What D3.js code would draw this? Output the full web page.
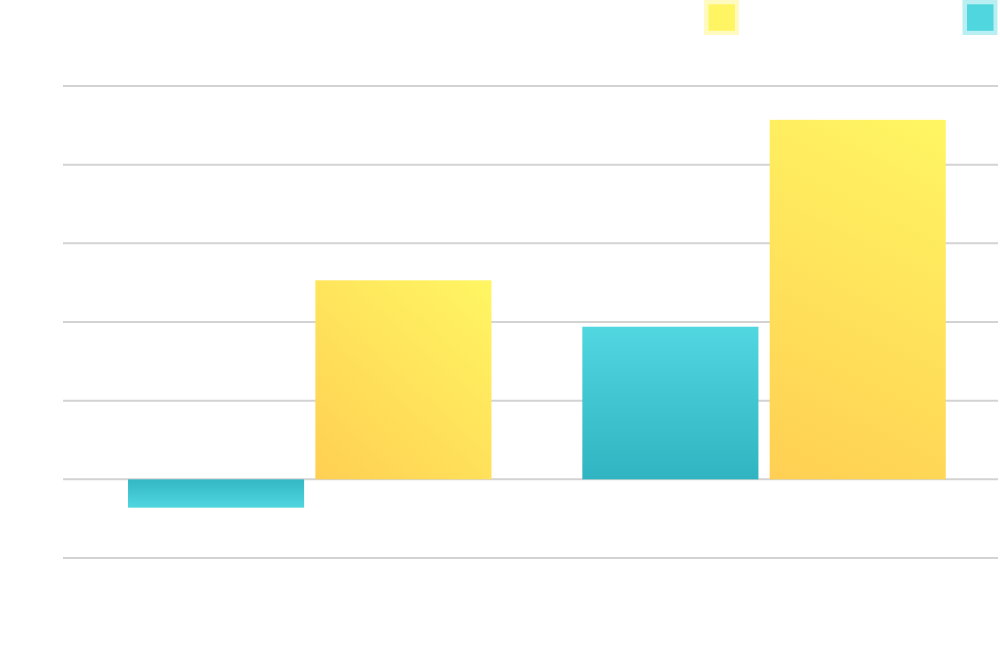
<!DOCTYPE html>
<html>
<head>
<meta charset="utf-8">
<script src="https://cdn.jsdelivr.net/npm/d3@7"></script>
<style>
  html, body { margin: 0; padding: 0; background: #fff; }
</style>
</head>
<body>
<div id="chart"></div>
<script>
var categories = ["A", "B"],
    series = ["teal", "yellow"],
    tealValues = [-3.6, 19.4],
    yellowValues = [25.3, 45.7],
    yTicks = [-10, 0, 10, 20, 30, 40, 50],
    legendItems = ["yellow", "teal"];

var width = 1000,
    height = 649,
    gridLeft = 63,
    gridRight = 998;

var svg = d3.select("#chart").append("svg")
  .attr("width", width)
  .attr("height", height);

var defs = svg.append("defs");

var grad = function (id, x1, y1, x2, y2, c1, c2, units) {
  var g = defs.append("linearGradient").attr("id", id)
    .attr("x1", x1).attr("y1", y1).attr("x2", x2).attr("y2", y2);
  if (units) g.attr("gradientUnits", units);
  g.append("stop").attr("offset", "0%").attr("stop-color", c1);
  g.append("stop").attr("offset", "100%").attr("stop-color", c2);
};
// teal: base dark, tip light
grad("tealUp", 0, 0, 0, 1, "#51d7e0", "#30b4c1");
grad("tealDown", 0, 0, 0, 1, "#33b8c4", "#4fd6df");

var y = d3.scaleLinear()
  .domain([-10, 50])
  .range([558, 86]);

var x0 = d3.scaleBand()
  .domain(categories)
  .range([82.6, 991.2])
  .paddingInner(0.2)
  .paddingOuter(0.1);

var x1 = d3.scaleBand()
  .domain(series)
  .range([0, x0.bandwidth()])
  .paddingInner(0.06);

// gridlines
svg.append("g")
  .selectAll("line")
  .data(yTicks)
  .enter()
  .append("line")
  .attr("x1", gridLeft)
  .attr("x2", gridRight)
  .attr("y1", function (d) { return y(d); })
  .attr("y2", function (d) { return y(d); })
  .attr("stroke", "#d3d3d3")
  .attr("stroke-width", 2);

var data = categories.map(function (c, i) {
  return { cat: c, values: [
    { key: "teal", value: tealValues[i], idx: i },
    { key: "yellow", value: yellowValues[i], idx: i }
  ] };
});

// yellow: gradient from bottom-left corner to top-right corner, in pixel space
data.forEach(function (d) {
  var v = d.values[1],
      bx = x1("yellow"),
      top = y(Math.max(0, v.value)),
      bottom = y(Math.min(0, v.value));
  grad("yellow" + v.idx, bx, bottom, bx + x1.bandwidth(), top,
       "#ffcf53", "#fff663", "userSpaceOnUse");
});

var groups = svg.append("g")
  .selectAll("g")
  .data(data)
  .enter()
  .append("g")
  .attr("transform", function (d) { return "translate(" + x0(d.cat) + ",0)"; });

groups.selectAll("rect")
  .data(function (d) { return d.values; })
  .enter()
  .append("rect")
  .attr("x", function (d) { return x1(d.key); })
  .attr("width", x1.bandwidth())
  .attr("y", function (d) { return y(Math.max(0, d.value)); })
  .attr("height", function (d) { return Math.abs(y(d.value) - y(0)); })
  .attr("fill", function (d) {
    if (d.key === "yellow") return "url(#yellow" + d.idx + ")";
    return d.value < 0 ? "url(#tealDown)" : "url(#tealUp)";
  });

// legend swatches
var legendX = { yellow: 704, teal: 962.5 },
    legendColor = { yellow: "#fff462", teal: "#4fd6df" };

var legend = svg.append("g")
  .selectAll("g")
  .data(legendItems)
  .enter()
  .append("g")
  .attr("transform", function (d) { return "translate(" + legendX[d] + ",0)"; });

legend.append("rect")
  .attr("width", 35)
  .attr("height", 35)
  .attr("fill", function (d) { return legendColor[d]; })
  .attr("fill-opacity", 0.4);

legend.append("rect")
  .attr("x", 4.5)
  .attr("y", 4.3)
  .attr("width", 26.5)
  .attr("height", 26.5)
  .attr("fill", function (d) { return legendColor[d]; });
</script>
</body>
</html>
